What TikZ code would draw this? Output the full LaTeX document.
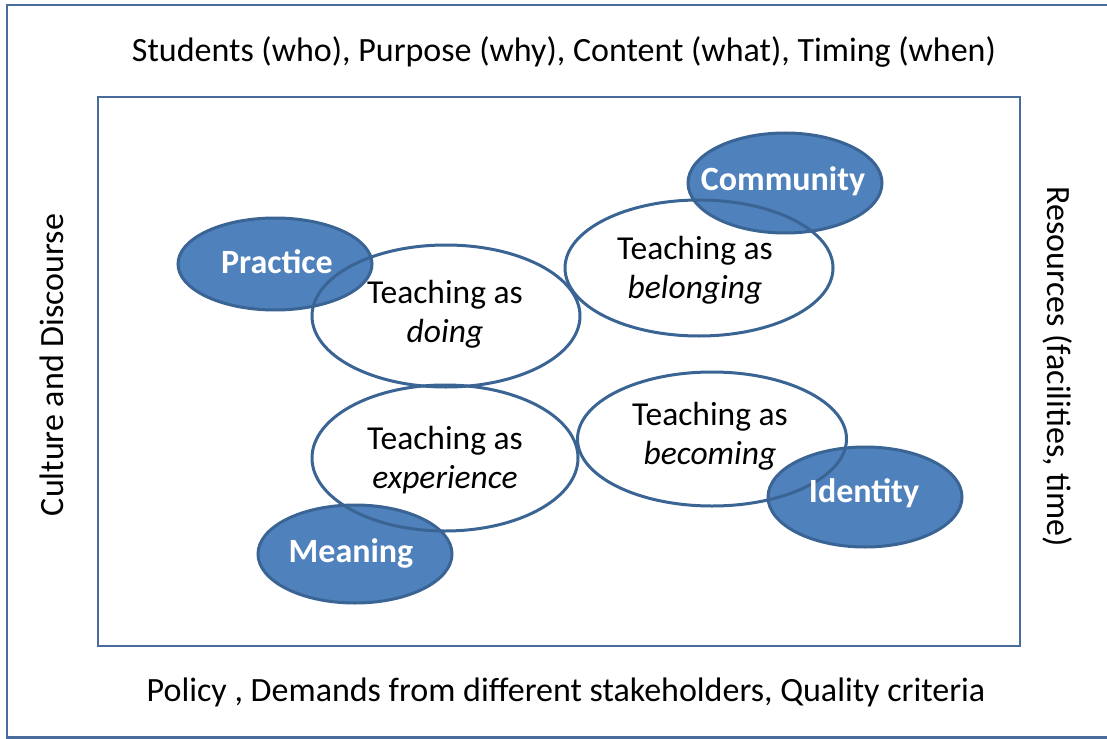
\documentclass[tikz,border=0pt]{standalone}
\usepackage{fontspec}
\setmainfont{Carlito}
\usetikzlibrary{shapes.geometric}
\definecolor{bfill}{HTML}{4F81BD}
\definecolor{bline}{HTML}{3A6494}
\definecolor{rline}{HTML}{4A6C9C}
\tikzset{
  blueell/.style={ellipse, draw=bline, fill=bfill, line width=3pt, inner sep=0pt},
  bluetxt/.style={text=white, font=\fontsize{34}{36}\selectfont\bfseries},
  teachell/.style={ellipse, draw=bline, line width=3pt, inner sep=0pt},
  teachtxt/.style={align=center, font=\fontsize{33.5}{38.5}\selectfont},
  sidetxt/.style={font=\fontsize{34}{38}\selectfont},
}
\begin{document}
\begin{tikzpicture}[x=1pt,y=-1pt]
\useasboundingbox (0,0) rectangle (1107,738);
\begin{scope}
\clip (0,0) rectangle (1107,738);
\draw[rline, line width=2.6pt] (7,5) rectangle (1112,737.5);
\end{scope}
\draw[rline, line width=2.8pt] (98,97) rectangle (1020,646);
% side texts
\node[sidetxt] (top) at (564,52) {Students (who), Purpose (why), Content (what), Timing (when)};
\node[sidetxt] (bottom) at (566,692) {Policy , Demands from different stakeholders, Quality criteria};
\node[sidetxt, rotate=90] (left) at (52,365) {Culture and Discourse};
\node[sidetxt, rotate=-90] (right) at (1058,367) {Resources (facilities, time)};
% blue ellipses
\node[blueell, minimum width=194pt, minimum height=92pt] (practice) at (275,264) {};
\node[blueell, minimum width=194pt, minimum height=100pt] (community) at (785,183) {};
\node[blueell, minimum width=194pt, minimum height=98pt] (meaning) at (355,554) {};
\node[blueell, minimum width=194pt, minimum height=100pt] (identity) at (865,497) {};
% teaching ellipses
\node[teachell, minimum width=268pt, minimum height=142pt] (doing) at (446,316) {};
\node[teachell, minimum width=268pt, minimum height=136pt] (belonging) at (699,268) {};
\node[teachell, minimum width=266pt, minimum height=146pt] (experience) at (445,458) {};
\node[teachell, minimum width=269pt, minimum height=134pt] (becoming) at (712,439) {};
% labels
\node[bluetxt] (practiceL) at (277,262) {Practice};
\node[bluetxt] (communityL) at (783,181) {Community};
\node[bluetxt] (meaningL) at (351,553) {Meaning};
\node[bluetxt] (identityL) at (864,493) {Identity};
\node[teachtxt] (doingL) at (445,314) {Teaching as\\\textit{doing}};
\node[teachtxt] (belongingL) at (695,270) {Teaching as\\\textit{belonging}};
\node[teachtxt] (experienceL) at (445,460) {Teaching as\\\textit{experience}};
\node[teachtxt] (becomingL) at (710,436) {Teaching as\\\textit{becoming}};
\end{tikzpicture}
\end{document}
